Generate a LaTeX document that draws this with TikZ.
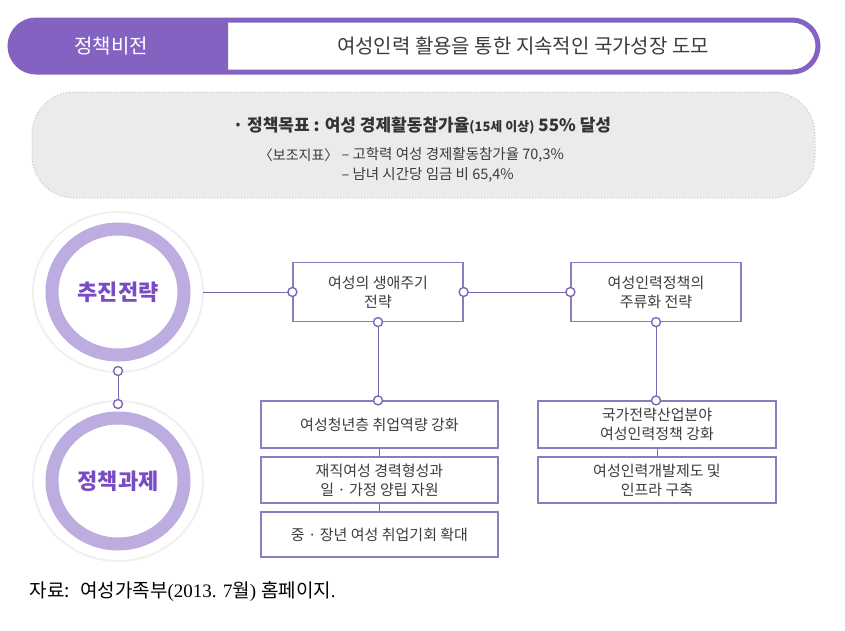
\documentclass[tikz,border=0pt]{standalone}
\usepackage{fontspec}
\setmainfont{Noto Sans CJK KR}
\newfontfamily\latinserif{Liberation Serif}
\usetikzlibrary{positioning}
\definecolor{visionc}{HTML}{8462C2}
\definecolor{ringc}{HTML}{BDACDF}
\definecolor{linec}{HTML}{7E66B8}
\definecolor{boxc}{HTML}{8C7CC2}
\definecolor{textc}{HTML}{3C3C3C}
\definecolor{headc}{HTML}{7A4CC4}
\definecolor{goalc}{HTML}{EBEBEB}
\begin{document}
\begin{tikzpicture}[x=1pt,y=-1pt,
    every node/.style={text=textc,font=\fontsize{15}{19}\selectfont},
    taskbox/.style={draw=boxc,line width=1.2pt,fill=white,align=center,inner sep=0pt},
    dot/.style={circle,draw=linec,line width=1.4pt,fill=white,minimum size=9pt,inner sep=0pt},
    link/.style={draw=linec,line width=1pt},
    ringnode/.style={circle,minimum size=170pt,inner sep=0pt,text=headc,
                     font=\fontsize{22}{24}\selectfont\bfseries}]
  \useasboundingbox (0,0) rectangle (845,630);

  % vision banner
  \begin{scope}
    \clip (0,0) rectangle (228,100);
    \fill[visionc,rounded corners=26pt] (10,20) rectangle (818,72);
  \end{scope}
  \draw[visionc,line width=5pt,rounded corners=26pt] (10,20) rectangle (818,72);
  \node[text=white,font=\fontsize{20}{22}\selectfont] (vision) at (111,46) {정책비전};
  \node[font=\fontsize{20}{22}\selectfont] (visiontext) at (523,46)
    {여성인력 활용을 통한 지속적인 국가성장 도모};

  % goals
  \draw[gray!45,dotted,line width=1pt,fill=goalc,rounded corners=42pt]
    (32,92) rectangle (815,198);
  \node[font=\fontsize{17}{20}\selectfont\bfseries,text=black!80] (goal) at (422,126)
    {· 정책목표 : 여성 경제활동참가율{\fontsize{13}{15}\selectfont(15세 이상)} 55\% 달성};
  \node[anchor=east,font=\fontsize{14}{17}\selectfont] (subgoal) at (342,155) {〈보조지표〉};
  \node[anchor=west,font=\fontsize{14.5}{17}\selectfont] (subone) at (338,155)
    {– 고학력 여성 경제활동참가율 70,3\%};
  \node[anchor=west,font=\fontsize{14.5}{17}\selectfont] (subtwo) at (338,175)
    {– 남녀 시간당 임금 비 65,4\%};

  % two rings
  \foreach \y in {292,481} {
    \draw[gray!12,line width=2pt] (118,\y) ellipse [x radius=85,y radius=80];
    \draw[ringc,line width=13pt] (118,\y) ellipse [x radius=66,y radius=63];
  }
  \node[ringnode] (strategy) at (118,292) {추진전략};
  \node[ringnode] (tasks) at (118,481) {정책과제};
  \coordinate (ringtop) at (118,371);
  \coordinate (ringbot) at (118,404);
  \draw[link] (ringtop) -- (ringbot);
  \node[dot] at (ringtop) {};
  \node[dot] at (ringbot) {};

  % strategies
  \node[taskbox,minimum width=170pt,minimum height=59pt] (life) at (378,292)
    {여성의 생애주기\\전략};
  \node[taskbox,minimum width=170pt,minimum height=59pt] (mainstream) at (656,292)
    {여성인력정책의\\주류화 전략};

  % tasks
  \node[taskbox,minimum width=237pt,minimum height=47pt] (youth) at (379.5,424.5)
    {여성청년층 취업역량 강화};
  \node[taskbox,minimum width=237pt,minimum height=46pt] (career) at (379.5,480)
    {재직여성 경력형성과\\일 · 가정 양립 자원};
  \node[taskbox,minimum width=237pt,minimum height=45pt] (midage) at (379.5,534.5)
    {중 · 장년 여성 취업기회 확대};
  \node[taskbox,minimum width=238pt,minimum height=47pt] (industry) at (657,424.5)
    {국가전략산업분야\\여성인력정책 강화};
  \node[taskbox,minimum width=238pt,minimum height=46pt] (infra) at (657,480)
    {여성인력개발제도 및\\인프라 구축};

  % connectors
  \draw[link] (strategy.east) -- (life.west);
  \draw[link] (life.east) -- (mainstream.west);
  \draw[link] (life.south) -- (youth.north -| life.south);
  \draw[link] (mainstream.south) -- (industry.north -| mainstream.south);
  \draw[link] (youth.south) -- (career.north);
  \draw[link] (career.south) -- (midage.north);
  \draw[link] (industry.south) -- (infra.north);
  \foreach \p in {life.west,life.east,life.south,mainstream.west,mainstream.south}
    \node[dot] at (\p) {};
  \node[dot] at (youth.north -| life.south) {};
  \node[dot] at (industry.north -| mainstream.south) {};

  % source
  \node[anchor=west,text=black,font=\fontsize{19}{22}\selectfont] (source) at (26,592)
    {자료: {\latinserif\ }여성가족부{\latinserif(2013. 7}월{\latinserif) }홈페이지{\latinserif.}};
\end{tikzpicture}
\end{document}
